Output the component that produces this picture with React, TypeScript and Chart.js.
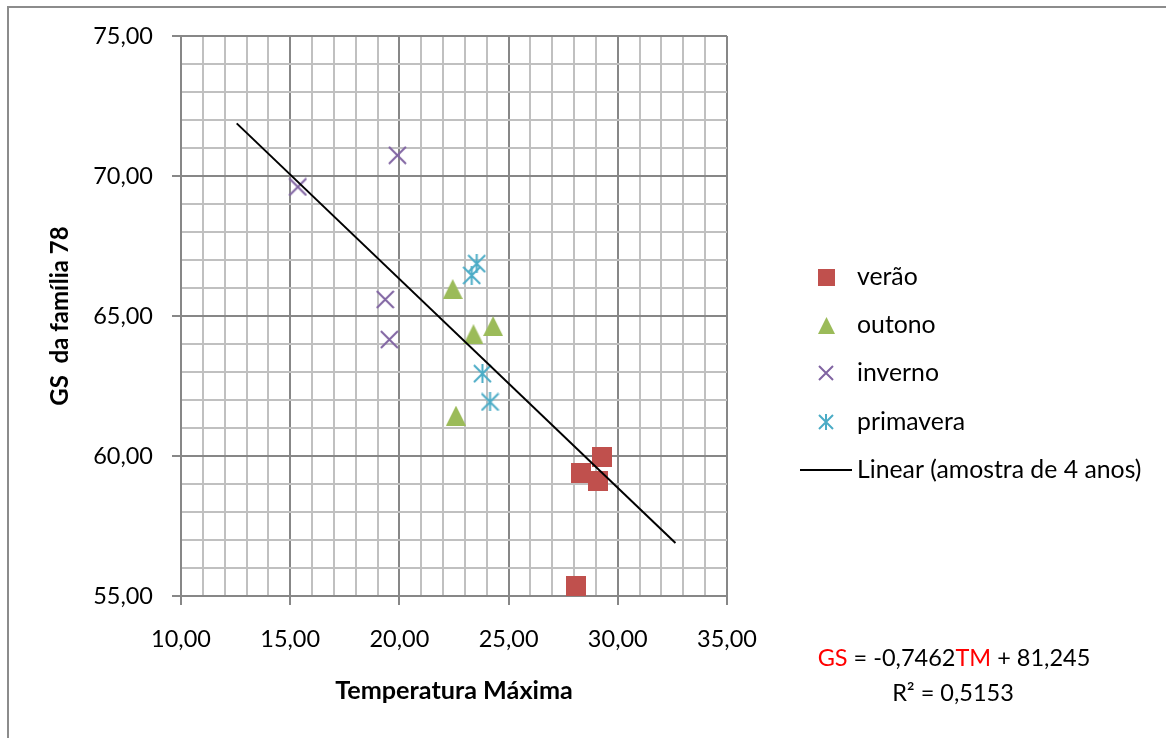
import React, { useEffect, useRef } from 'react';
import { Chart, registerables } from 'chart.js';

Chart.register(...registerables);

// ---- data ----
const xMajorTicks = [10, 15, 20, 25, 30, 35];
const yMajorTicks = [55, 60, 65, 70, 75];

const veraoX = [29.26, 28.3, 29.1, 28.1];
const veraoY = [59.96, 59.41, 59.11, 55.35];

const outonoX = [22.44, 23.39, 24.29, 22.59];
const outonoY = [65.96, 64.35, 64.64, 61.44];

const invernoX = [15.35, 19.91, 19.35, 19.54];
const invernoY = [69.61, 70.74, 65.59, 64.16];

const primaveraX = [23.54, 23.31, 23.8, 24.15];
const primaveraY = [66.87, 66.45, 62.94, 61.93];

const trendX = [12.55, 32.64];
const trendY = [71.88, 56.89];

const seriesNames = ['verão', 'outono', 'inverno', 'primavera'];
const trendName = 'Linear (amostra de 4 anos)';
const xTitle = 'Temperatura Máxima';
const yTitle = 'GS  da família 78';

const RED = '#C0504D';
const GREEN = '#9BBB59';
const PURPLE = '#8064A2';
const CYAN = '#4BACC6';

const FONT = 'Lato';
const FS = 23.5;
const LEGEND_FS = 24.8;

function makeMarker(kind: string, size: number, color: string): HTMLCanvasElement {
  const c = document.createElement('canvas');
  c.width = size;
  c.height = size;
  const g = c.getContext('2d')!;
  g.fillStyle = color;
  g.strokeStyle = color;
  g.lineWidth = 2;
  if (kind === 'square') {
    g.fillRect(0, 0, size, size);
  } else if (kind === 'triangle') {
    g.beginPath();
    g.moveTo(size / 2, 0);
    g.lineTo(size, size);
    g.lineTo(0, size);
    g.closePath();
    g.fill();
  } else {
    g.beginPath();
    g.moveTo(1, 1);
    g.lineTo(size - 1, size - 1);
    g.moveTo(size - 1, 1);
    g.lineTo(1, size - 1);
    if (kind === 'star') {
      g.moveTo(size / 2, 0);
      g.lineTo(size / 2, size);
    }
    g.stroke();
  }
  return c;
}

const toPts = (xs: number[], ys: number[]) => xs.map((x, i) => ({ x, y: ys[i] }));
const fmt = (v: number) => v.toFixed(2).replace('.', ',');

export default function App() {
  const ref = useRef<HTMLCanvasElement>(null);

  useEffect(() => {
    const canvas = ref.current!;
    const M = 20;
    const L = 17;
    const dark = '#878787';
    const light = '#c0c0c0';

    const legendMarkers = [
      makeMarker('square', L, RED),
      makeMarker('triangle', L, GREEN),
      makeMarker('x', L - 1, PURPLE),
      makeMarker('star', L - 1, CYAN),
    ];

    const decor = {
      id: 'decor',
      afterDraw(chart: any) {
        const ctx = chart.ctx as CanvasRenderingContext2D;
        ctx.save();
        // outer frame
        ctx.fillStyle = '#8c8c8c';
        ctx.fillRect(7, 6, 2, 732);
        ctx.fillRect(7, 6, 1159, 2);

        // legend
        ctx.font = `${LEGEND_FS}px ${FONT}`;
        ctx.fillStyle = '#000';
        ctx.textBaseline = 'middle';
        ctx.textAlign = 'left';
        seriesNames.forEach((name, i) => {
          const cy = 277 + i * 48.2;
          const img = legendMarkers[i];
          ctx.drawImage(img, Math.round(826 - img.width / 2), Math.round(cy - img.height / 2));
          ctx.fillText(name, 857, cy);
        });
        const ly = 277 + 4 * 48.2;
        ctx.strokeStyle = '#000';
        ctx.lineWidth = 2;
        ctx.beginPath();
        ctx.moveTo(800, Math.round(ly));
        ctx.lineTo(852, Math.round(ly));
        ctx.stroke();
        ctx.fillText(trendName, 857, ly);

        // equation
        ctx.font = `${FS}px ${FONT}`;
        ctx.textBaseline = 'alphabetic';
        const segs: [string, string][] = [
          ['GS', '#FF0000'],
          [' = -0,7462', '#000'],
          ['TM', '#FF0000'],
          [' + 81,245', '#000'],
        ];
        const total = segs.reduce((s, [t]) => s + ctx.measureText(t).width, 0);
        let x = 954 - total / 2;
        segs.forEach(([t, col]) => {
          ctx.fillStyle = col;
          ctx.fillText(t, x, 666);
          x += ctx.measureText(t).width;
        });
        ctx.fillStyle = '#000';
        ctx.textAlign = 'center';
        ctx.fillText('R² = 0,5153', 953, 701);
        ctx.restore();
      },
    };

    const isMajorX = (v: number) => xMajorTicks.some((t) => Math.abs(t - v) < 1e-6);
    const isMajorY = (v: number) => yMajorTicks.some((t) => Math.abs(t - v) < 1e-6);

    const chart = new Chart(canvas, {
      type: 'scatter',
      data: {
        datasets: [
          {
            label: trendName,
            type: 'line',
            data: toPts(trendX, trendY),
            borderColor: '#000',
            borderWidth: 2,
            pointRadius: 0,
            fill: false,
            order: 0,
          } as any,
          {
            label: seriesNames[0],
            data: toPts(veraoX, veraoY),
            pointStyle: makeMarker('square', M, RED),
            pointRadius: 10,
            order: 4,
          },
          {
            label: seriesNames[1],
            data: toPts(outonoX, outonoY),
            pointStyle: makeMarker('triangle', M, GREEN),
            pointRadius: 10,
            order: 3,
          },
          {
            label: seriesNames[2],
            data: toPts(invernoX, invernoY),
            pointStyle: makeMarker('x', M - 1, PURPLE),
            pointRadius: 10,
            order: 2,
          },
          {
            label: seriesNames[3],
            data: toPts(primaveraX, primaveraY),
            pointStyle: makeMarker('star', M - 1, CYAN),
            pointRadius: 10,
            order: 1,
          },
        ],
      },
      options: {
        responsive: false,
        animation: false,
        devicePixelRatio: 1,
        color: '#000',
        font: { family: FONT, size: FS },
        layout: { padding: { top: 36, right: 439, left: 0, bottom: 0 } },
        plugins: {
          legend: { display: false },
          tooltip: { enabled: false },
        },
        scales: {
          x: {
            type: 'linear',
            min: 10,
            max: 35,
            afterFit: (s: any) => {
              s.height = 142;
            },
            ticks: {
              stepSize: 1,
              autoSkip: false,
              maxRotation: 0,
              minRotation: 0,
              padding: 20,
              color: '#000',
              font: { family: FONT, size: FS },
              callback: (v: any) => (isMajorX(Number(v)) ? fmt(Number(v)) : ''),
            },
            grid: {
              color: (c: any) => (c.tick && isMajorX(c.tick.value) ? dark : light),
              lineWidth: 2,
              tickLength: 9,
              tickColor: (c: any) => (c.tick && isMajorX(c.tick.value) ? dark : 'rgba(0,0,0,0)'),
              tickWidth: 2,
            },
            border: { color: dark, width: 2 },
            title: {
              display: true,
              text: xTitle,
              color: '#000',
              font: { family: FONT, size: 25.2, weight: 'bold' },
              padding: { top: 0, bottom: 32 },
            },
          },
          y: {
            type: 'linear',
            min: 55,
            max: 75,
            afterFit: (s: any) => {
              s.width = 181;
            },
            ticks: {
              stepSize: 1,
              autoSkip: false,
              padding: 19,
              color: '#000',
              font: { family: FONT, size: FS },
              callback: (v: any) => (isMajorY(Number(v)) ? fmt(Number(v)) : ''),
            },
            grid: {
              color: (c: any) => (c.tick && isMajorY(c.tick.value) ? dark : light),
              lineWidth: 2,
              tickLength: 9,
              tickColor: (c: any) => (c.tick && isMajorY(c.tick.value) ? dark : 'rgba(0,0,0,0)'),
              tickWidth: 2,
            },
            border: { color: dark, width: 2 },
            title: {
              display: true,
              text: yTitle,
              color: '#000',
              font: { family: FONT, size: 24, weight: 'bold' },
              padding: { top: 46, bottom: 0 },
            },
          },
        },
      },
      plugins: [decor],
    } as any);

    return () => chart.destroy();
  }, []);

  return (
    <canvas
      ref={ref}
      width={1166}
      height={738}
      style={{ position: 'absolute', left: 0, top: 0 }}
    />
  );
}
